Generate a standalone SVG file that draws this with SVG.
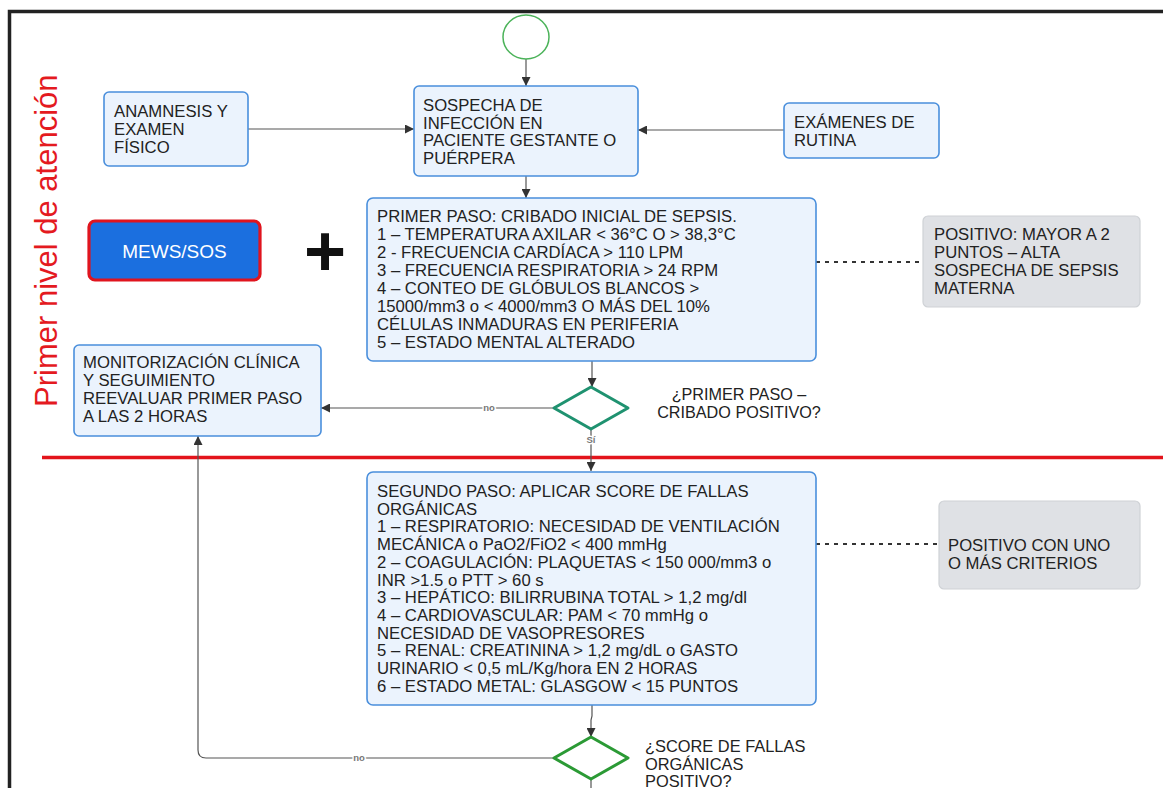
<svg xmlns="http://www.w3.org/2000/svg" width="1163" height="788" viewBox="0 0 1163 788">
<defs>
<style>
text{font-family:"Liberation Sans",Arial,sans-serif;fill:#222}
.t{font-size:16.7px}
.box{fill:#ebf3fd;stroke:#4a8fdc;stroke-width:1.6}
.gbox{fill:#dfe1e5;stroke:#cfd2d6;stroke-width:1.2}
.ln{fill:none;stroke:#555;stroke-width:1.2}
.dot{fill:none;stroke:#333;stroke-width:2;stroke-dasharray:4 5}
.lbl{font-size:9.5px;font-weight:bold;fill:#777;stroke:#fff;stroke-width:3;paint-order:stroke}
</style>
<marker id="ah" viewBox="0 0 10 10" refX="10" refY="5" markerWidth="9" markerHeight="9" markerUnits="userSpaceOnUse" orient="auto">
<path d="M0,0 L10,5 L0,10 z" fill="#333"/>
</marker>
</defs>
<rect x="0" y="0" width="1163" height="788" fill="#fff"/>
<path d="M9.5,788 V11.5 H1163" fill="none" stroke="#222" stroke-width="3.5"/>
<text x="57" y="407" transform="rotate(-90 57 407)" style="font-size:31px;fill:#e41a1f">Primer nivel de atención</text>
<line x1="42" y1="457.5" x2="1163" y2="457.5" stroke="#e3141b" stroke-width="3.5"/>

<g id="connectors">
<line class="ln" x1="526" y1="59" x2="526" y2="86" marker-end="url(#ah)"/>
<line class="ln" x1="248" y1="129" x2="414" y2="129" marker-end="url(#ah)"/>
<line class="ln" x1="784" y1="130" x2="638" y2="130" marker-end="url(#ah)"/>
<line class="ln" x1="526" y1="176" x2="526" y2="198" marker-end="url(#ah)"/>
<line class="dot" x1="816" y1="262" x2="923" y2="262"/>
<line class="ln" x1="592" y1="361" x2="592" y2="387" marker-end="url(#ah)"/>
<line class="ln" x1="555" y1="408" x2="321" y2="408" marker-end="url(#ah)"/>
<text class="lbl" x="489" y="411" text-anchor="middle">no</text>
<line class="ln" x1="591" y1="429" x2="591" y2="471" marker-end="url(#ah)"/>
<text class="lbl" x="591" y="443" text-anchor="middle">Sí</text>
<line class="dot" x1="816" y1="544" x2="939" y2="544"/>
<path class="ln" d="M592,705 V716 L591,720 V737" marker-end="url(#ah)"/>
<path class="ln" d="M555,758 H206 Q198,758 198,750 V436" marker-end="url(#ah)"/>
<text class="lbl" x="359" y="761" text-anchor="middle">no</text>
<line class="ln" x1="591" y1="779" x2="591" y2="788"/>
</g>

<g id="start"><ellipse cx="526" cy="37" rx="23" ry="22" fill="#fff" stroke="#4cb35a" stroke-width="1.5"/></g>

<g id="sospecha">
<rect class="box" x="414" y="86" width="224" height="90" rx="5"/>
<text class="t"><tspan x="423" y="111">SOSPECHA DE</tspan><tspan x="423" y="128.5">INFECCIÓN EN</tspan><tspan x="423" y="146">PACIENTE GESTANTE O</tspan><tspan x="423" y="163.5">PUÉRPERA</tspan></text>
</g>

<g id="anamnesis">
<rect class="box" x="104" y="92" width="144" height="74" rx="5"/>
<text class="t"><tspan x="114" y="117">ANAMNESIS Y</tspan><tspan x="114" y="135">EXAMEN</tspan><tspan x="114" y="153">FÍSICO</tspan></text>
</g>

<g id="examenes">
<rect class="box" x="784" y="103" width="155" height="55" rx="5"/>
<text class="t"><tspan x="794" y="128">EXÁMENES DE</tspan><tspan x="794" y="145.5">RUTINA</tspan></text>
</g>

<g id="mews">
<rect x="89" y="221" width="171" height="59" rx="6" fill="#1b6fdf" stroke="#e0141e" stroke-width="3.2"/>
<text x="174.5" y="258" text-anchor="middle" style="font-size:19px;fill:#fff">MEWS/SOS</text>
</g>

<g id="plus"><text x="325" y="276" text-anchor="middle" style="font-size:72px;font-weight:bold;fill:#111">+</text></g>

<g id="primer">
<rect class="box" x="367" y="198" width="449" height="163" rx="6"/>
<text class="t">
<tspan x="377" y="222">PRIMER PASO: CRIBADO INICIAL DE SEPSIS.</tspan>
<tspan x="377" y="240">1 – TEMPERATURA AXILAR &lt; 36°C O &gt; 38,3°C</tspan>
<tspan x="377" y="258">2 - FRECUENCIA CARDÍACA &gt; 110 LPM</tspan>
<tspan x="377" y="276">3 – FRECUENCIA RESPIRATORIA &gt; 24 RPM</tspan>
<tspan x="377" y="294">4 – CONTEO DE GLÓBULOS BLANCOS &gt;</tspan>
<tspan x="377" y="312">15000/mm3 o &lt; 4000/mm3 O MÁS DEL 10%</tspan>
<tspan x="377" y="330">CÉLULAS INMADURAS EN PERIFERIA</tspan>
<tspan x="377" y="348">5 – ESTADO MENTAL ALTERADO</tspan>
</text>
</g>

<g id="positivo1">
<rect class="gbox" x="923" y="216" width="217" height="91" rx="5"/>
<text class="t"><tspan x="934" y="240">POSITIVO: MAYOR A 2</tspan><tspan x="934" y="258">PUNTOS – ALTA</tspan><tspan x="934" y="276">SOSPECHA DE SEPSIS</tspan><tspan x="934" y="293.5">MATERNA</tspan></text>
</g>

<g id="monitorizacion">
<rect class="box" x="74" y="345" width="247" height="91" rx="5"/>
<text class="t"><tspan x="83" y="368">MONITORIZACIÓN CLÍNICA</tspan><tspan x="83" y="386">Y SEGUIMIENTO</tspan><tspan x="83" y="404">REEVALUAR PRIMER PASO</tspan><tspan x="83" y="422">A LAS 2 HORAS</tspan></text>
</g>

<g id="decision1">
<polygon points="591,387 628,408 591,429 554,408" fill="#fff" stroke="#1f9270" stroke-width="3" stroke-linejoin="round"/>
<text class="t" text-anchor="middle" style="font-size:16.2px"><tspan x="739" y="400">¿PRIMER PASO –</tspan><tspan x="739" y="418">CRIBADO POSITIVO?</tspan></text>
</g>

<g id="segundo">
<rect class="box" x="367" y="472" width="449" height="233" rx="6"/>
<text class="t">
<tspan x="377" y="497">SEGUNDO PASO: APLICAR SCORE DE FALLAS</tspan>
<tspan x="377" y="514.7">ORGÁNICAS</tspan>
<tspan x="377" y="532.4">1 – RESPIRATORIO: NECESIDAD DE VENTILACIÓN</tspan>
<tspan x="377" y="550.1">MECÁNICA o PaO2/FiO2 &lt; 400 mmHg</tspan>
<tspan x="377" y="567.8">2 – COAGULACIÓN: PLAQUETAS &lt; 150 000/mm3 o</tspan>
<tspan x="377" y="585.5">INR &gt;1.5 o PTT &gt; 60 s</tspan>
<tspan x="377" y="603.2">3 – HEPÁTICO: BILIRRUBINA TOTAL &gt; 1,2 mg/dl</tspan>
<tspan x="377" y="620.9">4 – CARDIOVASCULAR: PAM &lt; 70 mmHg o</tspan>
<tspan x="377" y="638.6">NECESIDAD DE VASOPRESORES</tspan>
<tspan x="377" y="656.3">5 – RENAL: CREATININA &gt; 1,2 mg/dL o GASTO</tspan>
<tspan x="377" y="674">URINARIO &lt; 0,5 mL/Kg/hora EN 2 HORAS</tspan>
<tspan x="377" y="691.7">6 – ESTADO METAL: GLASGOW &lt; 15 PUNTOS</tspan>
</text>
</g>

<g id="positivo2">
<rect class="gbox" x="939" y="501" width="201" height="88" rx="5"/>
<text class="t"><tspan x="948" y="551">POSITIVO CON UNO</tspan><tspan x="948" y="568.5">O MÁS CRITERIOS</tspan></text>
</g>

<g id="decision2">
<polygon points="591,737 628,758 591,779 554,758" fill="#fff" stroke="#2b9a35" stroke-width="3" stroke-linejoin="round"/>
<text class="t" style="font-size:16.4px"><tspan x="645" y="752">¿SCORE DE FALLAS</tspan><tspan x="645" y="769.5">ORGÁNICAS</tspan><tspan x="645" y="787">POSITIVO?</tspan></text>
</g>
</svg>
